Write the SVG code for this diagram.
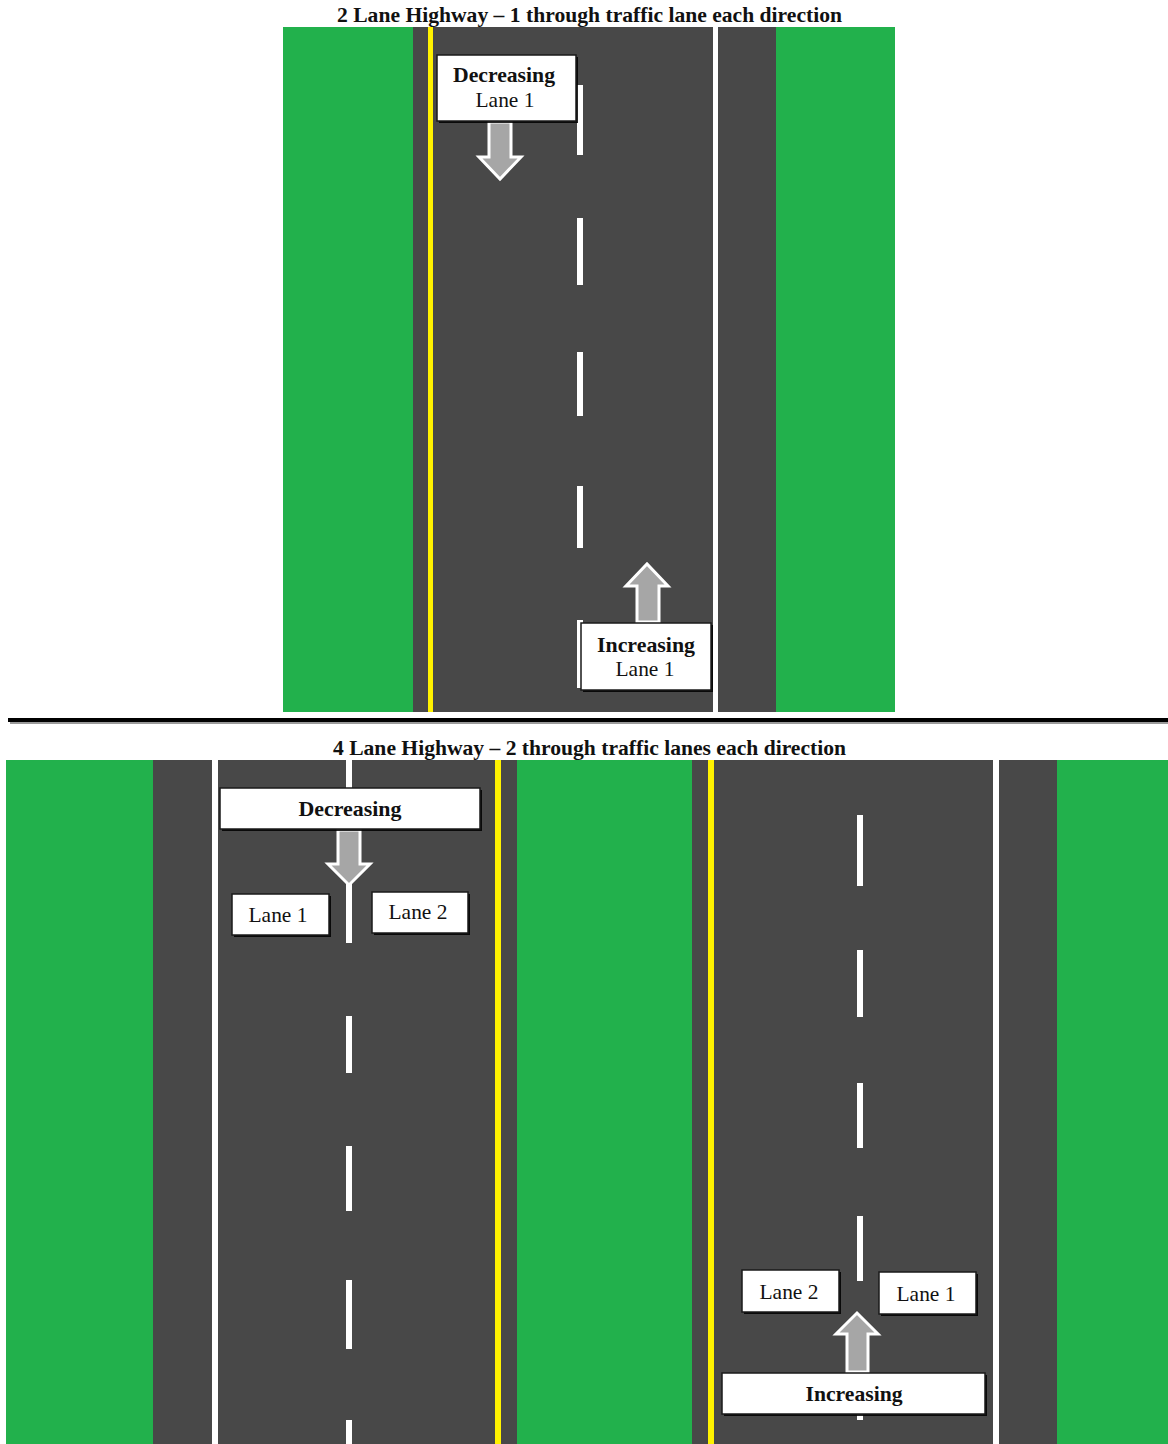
<svg xmlns="http://www.w3.org/2000/svg" width="1168" height="1444" viewBox="0 0 1168 1444">
<style>
.grass{fill:#22b14c}
.road{fill:#484848}
.wl{fill:#ffffff}
.yl{fill:#fff200}
.box{fill:#ffffff;stroke:#1a1a1a;stroke-width:1.5}
.shadow{fill:#000000;opacity:0.85}
.arrow{fill:#a6a6a6;stroke:#ffffff;stroke-width:3;stroke-linejoin:miter}
.title{font-family:"Liberation Serif","Times New Roman",serif;font-weight:bold;font-size:21px;fill:#111}
.lbl{font-family:"Liberation Serif","Times New Roman",serif;font-size:21px;fill:#111;text-anchor:middle}
.b{font-weight:bold}
</style>
<rect width="1168" height="1444" fill="#ffffff"/>

<g id="top-road">
<text class="title" x="337" y="22" textLength="505" lengthAdjust="spacingAndGlyphs">2 Lane Highway – 1 through traffic lane each direction</text>
<rect class="grass" x="283" y="27" width="130" height="685"/>
<rect class="road" x="413" y="27" width="363" height="685"/>
<rect class="grass" x="776" y="27" width="119" height="685"/>
<rect class="yl" x="428" y="27" width="5" height="685"/>
<rect class="wl" x="713" y="27" width="5" height="685"/>
<g id="top-dashes">
<rect class="wl" x="577" y="85" width="6" height="70"/>
<rect class="wl" x="577" y="218" width="6" height="67"/>
<rect class="wl" x="577" y="352" width="6" height="64"/>
<rect class="wl" x="577" y="486" width="6" height="62"/>
<rect class="wl" x="577" y="620" width="6" height="68"/>
</g>
</g>

<g id="sep">
<rect x="10" y="721" width="1158" height="3" fill="#9a9a9a"/>
<rect x="8" y="718" width="1160" height="4" fill="#000"/>
</g>

<g id="bottom-road">
<text class="title" x="333" y="755" textLength="513" lengthAdjust="spacingAndGlyphs">4 Lane Highway – 2 through traffic lanes each direction</text>
<rect class="grass" x="6" y="760" width="147" height="684"/>
<rect class="road" x="153" y="760" width="364" height="684"/>
<rect class="grass" x="517" y="760" width="175" height="684"/>
<rect class="road" x="692" y="760" width="365" height="684"/>
<rect class="grass" x="1057" y="760" width="111" height="684"/>
<rect class="wl" x="212" y="760" width="6" height="684"/>
<rect class="yl" x="495" y="760" width="6" height="684"/>
<rect class="yl" x="708" y="760" width="6" height="684"/>
<rect class="wl" x="993" y="760" width="6" height="684"/>
<g id="left-dashes">
<rect class="wl" x="346" y="760" width="6" height="30"/>
<rect class="wl" x="346" y="860" width="6" height="83"/>
<rect class="wl" x="346" y="1016" width="6" height="57"/>
<rect class="wl" x="346" y="1146" width="6" height="65"/>
<rect class="wl" x="346" y="1280" width="6" height="69"/>
<rect class="wl" x="346" y="1420" width="6" height="24"/>
</g>
<g id="right-dashes">
<rect class="wl" x="857" y="815" width="6" height="71"/>
<rect class="wl" x="857" y="950" width="6" height="67"/>
<rect class="wl" x="857" y="1083" width="6" height="65"/>
<rect class="wl" x="857" y="1216" width="6" height="65"/>
<rect class="wl" x="857" y="1400" width="6" height="20"/>
</g>
</g>

<g id="node-dec1">
<polygon class="arrow" points="489,122 511,122 511,157 521,157 500,179 479,157 489,157"/>
<rect class="shadow" x="439" y="57" width="139" height="66"/>
<rect class="box" x="437" y="55" width="139" height="66"/>
<text class="lbl b" x="504" y="82" textLength="102" lengthAdjust="spacingAndGlyphs">Decreasing</text>
<text class="lbl" x="505" y="107" textLength="59" lengthAdjust="spacingAndGlyphs">Lane 1</text>
</g>

<g id="node-inc1">
<polygon class="arrow" points="637,622 659,622 659,586 668,586 647,564 626,586 637,586"/>
<rect class="shadow" x="583" y="625" width="130" height="67"/>
<rect class="box" x="581" y="623" width="130" height="67"/>
<text class="lbl b" x="646" y="652" textLength="98" lengthAdjust="spacingAndGlyphs">Increasing</text>
<text class="lbl" x="645" y="676" textLength="59" lengthAdjust="spacingAndGlyphs">Lane 1</text>
</g>

<g id="node-dec2">
<polygon class="arrow" points="338,830 360,830 360,864 370,864 349,885 328,864 338,864"/>
<rect class="shadow" x="222" y="790" width="260" height="41"/>
<rect class="box" x="220" y="788" width="260" height="41"/>
<text class="lbl b" x="350" y="816" textLength="103" lengthAdjust="spacingAndGlyphs">Decreasing</text>
</g>

<g id="node-dec-lane1">
<rect class="shadow" x="234" y="896" width="97" height="41"/>
<rect class="box" x="232" y="894" width="97" height="41"/>
<text class="lbl" x="278" y="922" textLength="59" lengthAdjust="spacingAndGlyphs">Lane 1</text>
</g>
<g id="node-dec-lane2">
<rect class="shadow" x="374" y="894" width="96" height="41"/>
<rect class="box" x="372" y="892" width="96" height="41"/>
<text class="lbl" x="418" y="919" textLength="59" lengthAdjust="spacingAndGlyphs">Lane 2</text>
</g>

<g id="node-inc2">
<polygon class="arrow" points="847,1372 868,1372 868,1334 878,1334 857,1313 836,1334 847,1334"/>
<rect class="shadow" x="724" y="1375" width="263" height="41"/>
<rect class="box" x="722" y="1373" width="263" height="41"/>
<text class="lbl b" x="854" y="1401" textLength="97" lengthAdjust="spacingAndGlyphs">Increasing</text>
</g>
<g id="node-inc-lane2">
<rect class="shadow" x="744" y="1272" width="97" height="42"/>
<rect class="box" x="742" y="1270" width="97" height="42"/>
<text class="lbl" x="789" y="1299" textLength="59" lengthAdjust="spacingAndGlyphs">Lane 2</text>
</g>
<g id="node-inc-lane1">
<rect class="shadow" x="881" y="1274" width="97" height="42"/>
<rect class="box" x="879" y="1272" width="97" height="42"/>
<text class="lbl" x="926" y="1301" textLength="59" lengthAdjust="spacingAndGlyphs">Lane 1</text>
</g>
</svg>
